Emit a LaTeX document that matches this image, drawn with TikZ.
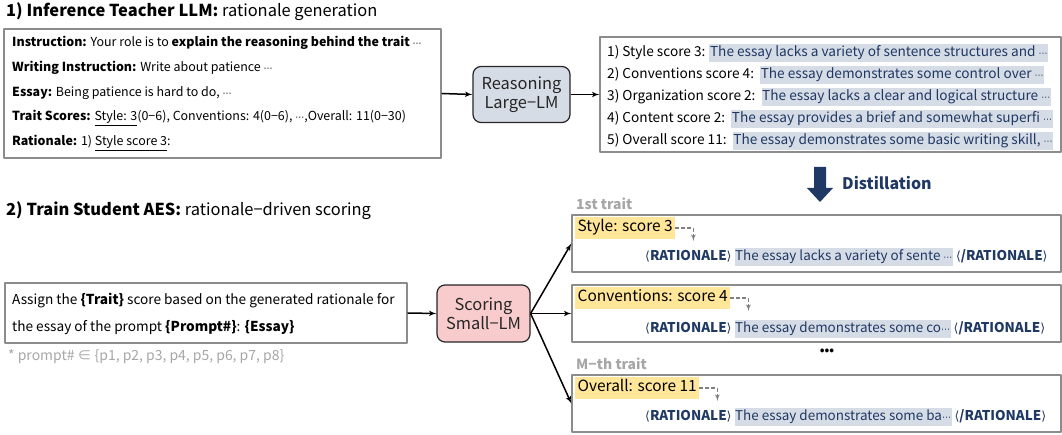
\documentclass[tikz,border=0pt]{standalone}
\usepackage{fontspec}
\setmainfont{Noto Sans CJK KR}
\newfontfamily\symfont{DejaVu Sans}
\usetikzlibrary{arrows}

\definecolor{boxgray}{HTML}{8C8C8C}
\definecolor{navy}{HTML}{1F3864}
\definecolor{hlblue}{HTML}{D6DCE5}
\definecolor{hlyellow}{HTML}{FFE699}
\definecolor{reasonfill}{HTML}{D6DCE5}
\definecolor{scorefill}{HTML}{F8CBCD}
\definecolor{labelgray}{HTML}{A6A6A6}
\definecolor{darktext}{HTML}{262626}

\newcommand{\midell}{{\symfont\fontsize{9}{10}\selectfont ⋯}}
\newcommand{\hlb}[1]{{\setlength{\fboxsep}{0.6pt}\colorbox{hlblue}{\color{navy}\strut #1}}}
\newcommand{\hly}[1]{{\setlength{\fboxsep}{2.5pt}\colorbox{hlyellow}{\strut #1}}}
\newcommand{\rtag}[1]{{\color{navy}{\symfont\fontsize{12.5}{15}\selectfont ⟨}\textbf{#1}{\symfont\fontsize{12.5}{15}\selectfont ⟩}}}

\tikzset{
  frame/.style={draw=boxgray, line width=1.3bp, inner sep=0pt},
  lmbox/.style={draw=darktext, line width=1.2bp, rounded corners=8bp, align=center,
    text=darktext, font=\fontsize{16.5}{19}\selectfont, inner sep=0pt},
  body/.style={anchor=west, inner sep=0pt, font=\fontsize{12.5}{15}\selectfont},
  ratbody/.style={anchor=west, inner sep=0pt, font=\fontsize{13.7}{16}\selectfont},
  title/.style={anchor=west, inner sep=0pt, font=\fontsize{16.5}{20}\selectfont},
  traitlab/.style={anchor=west, inner sep=0pt, font=\fontsize{15.5}{17}\selectfont},
  graylab/.style={anchor=west, inner sep=0pt, text=labelgray, font=\fontsize{14}{16}\selectfont\bfseries},
  dasharrow/.style={->, draw=gray, line width=1.2bp, dash pattern=on 4bp off 2bp},
}

\begin{document}
\begin{tikzpicture}[>=latex', x=1bp, y=-1bp, line join=bevel]
\useasboundingbox (0,0) rectangle (1062,435);

% Titles
\node[title] (title1) at (6,12) {\textbf{1) Inference Teacher LLM:} rationale generation};
\node[title] (title2) at (6,211) {\textbf{2) Train Student AES:} rationale−driven scoring};

% Node: teacherin
\node[frame, minimum width=437bp, minimum height=129bp] (teacherin) at (222.5,93.5) {};
\node[body] (t1) at (12,43) {\textbf{Instruction:} Your role is to \textbf{explain the reasoning behind the trait} \midell};
\node[body] (t2) at (12,68) {\textbf{Writing Instruction:} Write about patience \midell};
\node[body] (t3) at (12,93) {\textbf{Essay:} Being patience is hard to do, \midell};
\node[body] (t4) at (12,118) {\textbf{Trait Scores:} \underline{Style: 3}(0−6), Conventions: 4(0−6), \midell,Overall: 11(0−30)};
\node[body] (t5) at (12,143) {\textbf{Rationale:} 1) \underline{Style score 3}:};

% Node: reasoning
\node[lmbox, fill=reasonfill, minimum width=97bp, minimum height=56bp] (reasoning) at (521.5,94.5) {Reasoning\\Large−LM};

% Node: rationales
\node[frame, minimum width=461bp, minimum height=115bp] (rationales) at (830.5,94.5) {};
\node[ratbody] (r1) at (607,53) {1) Style score 3: \hlb{The essay lacks a variety of sentence structures and \midell}};
\node[ratbody] (r2) at (607,75) {2) Conventions score 4:\ \ \hlb{The essay demonstrates some control over \midell}};
\node[ratbody] (r3) at (607,97) {3) Organization score 2:\ \ \hlb{The essay lacks a clear and logical structure \midell}};
\node[ratbody] (r4) at (607,119) {4) Content score 2:\ \ \hlb{The essay provides a brief and somewhat superfi \midell}};
\node[ratbody] (r5) at (607,141) {5) Overall score 11:\ \ \hlb{The essay demonstrates some basic writing skill, \midell}};

% Edge: teacherin -> reasoning -> rationales
\draw [->, line width=1.5bp] (teacherin.east) -- (reasoning.west);
\draw [->, line width=1.5bp] (reasoning.east) -- (rationales.west);

% Distillation
\fill [navy] (814,167) -- (826,167) -- (826,188) -- (833,188) -- (820,202) -- (807,188) -- (814,188) -- cycle;
\node[anchor=west, inner sep=0pt, text=navy, font=\fontsize{16}{18}\selectfont\bfseries] (distiltxt) at (842,183) {Distillation};

% Node: studentin
\node[frame, minimum width=402bp, minimum height=60bp] (studentin) at (206,313) {};
\node[ratbody] (s1) at (12,301) {Assign the \textbf{\{Trait\}} score based on the generated rationale for};
\node[ratbody] (s2) at (12,328) {the essay of the prompt \textbf{\{Prompt\#\}}: \textbf{\{Essay\}}};
\node[body, text=labelgray, font=\fontsize{14}{16}\selectfont] (foot) at (8,357) {* prompt\# ∈ \{p1, p2, p3, p4, p5, p6, p7, p8\}};

% Node: scoring
\node[lmbox, fill=scorefill, minimum width=93bp, minimum height=57bp] (scoring) at (483.5,313.5) {Scoring\\Small−LM};

% Node: trait1
\node[graylab] (first) at (576,204) {1st trait};
\node[frame, minimum width=489bp, minimum height=57bp] (trait1) at (816.5,243.5) {};
\node[traitlab] (lab1) at (575,228) {\hly{Style: score 3}};
\node[ratbody, font=\fontsize{13.5}{16}\selectfont] (rat1) at (645,257) {\rtag{RATIONALE} \hlb{The essay lacks a variety of sente \midell} \rtag{/RATIONALE}};
\draw [dasharrow] (lab1.east) -- ++(18,0) -- ++(0,13);

% Node: trait2
\node[frame, minimum width=489bp, minimum height=57bp] (trait2) at (816.5,313.5) {};
\node[traitlab] (lab2) at (575,298) {\hly{Conventions: score 4}};
\node[ratbody, font=\fontsize{13.5}{16}\selectfont] (rat2) at (645,329) {\rtag{RATIONALE} \hlb{The essay demonstrates some co\midell} \rtag{/RATIONALE}};
\draw [dasharrow] (lab2.east) -- ++(18,0) -- ++(0,13);

\node[inner sep=0pt, font=\fontsize{12}{14}\selectfont\bfseries] (vdots) at (827,352) {•••};

% Node: trait3
\node[graylab] (mth) at (576,364) {M−th trait};
\node[frame, minimum width=489bp, minimum height=57bp] (trait3) at (816.5,403.5) {};
\node[traitlab] (lab3) at (575,388) {\hly{Overall: score 11}};
\node[ratbody, font=\fontsize{13.5}{16}\selectfont] (rat3) at (645,417) {\rtag{RATIONALE} \hlb{The essay demonstrates some ba\midell} \rtag{/RATIONALE}};
\draw [dasharrow] (lab3.east) -- ++(18,0) -- ++(0,13);

% Edge: studentin -> scoring -> traits
\draw [->, line width=1.5bp] (studentin.east) -- (scoring.west);
\draw [->, line width=1.5bp] (scoring.east) -- (trait1.west);
\draw [->, line width=1.5bp] (scoring.east) -- (trait2.west);
\draw [->, line width=1.5bp] (scoring.east) -- (trait3.west);
%
\end{tikzpicture}
\end{document}
